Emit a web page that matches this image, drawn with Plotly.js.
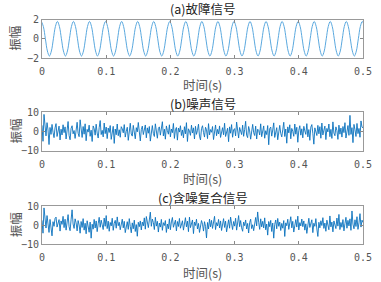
<!DOCTYPE html>
<html><head><meta charset="utf-8">
<script src="https://cdn.plot.ly/plotly-3.0.1.min.js"></script>
<style>html,body{margin:0;padding:0;background:#fff}#c{width:381px;height:282px}</style>
</head><body><div id="c"></div>
<script>
// Titles / labels
const titles = ['(a)故障信号', '(b)噪声信号', '(c)含噪复合信号'];
const xLabel = '时间(s)';
const yLabel = '振幅';
const xTickVals = [0, 0.1, 0.2, 0.3, 0.4, 0.5];
const xTickText = ['0', '0.1', '0.2', '0.3', '0.4', '0.5'];
const yTickVals1 = [-2, 0, 2];
const yTickVals2 = [-10, 0, 10];

// (a) fault signal: samples every 1/8 period, starting at first peak
const faultStart = -0.001, faultStep = 0.003125;
const faultSignal = [
1.8,1.27,0,-1.27,-1.8,-1.27,0,1.27, 1.8,1.27,0,-1.27,-1.8,-1.27,0,1.27,
1.8,1.27,0,-1.27,-1.8,-1.27,0,1.27, 1.8,1.27,0,-1.27,-1.8,-1.27,0,1.27,
1.8,1.27,0,-1.27,-1.8,-1.27,0,1.27, 1.8,1.27,0,-1.27,-1.8,-1.27,0,1.27,
1.8,1.27,0,-1.27,-1.8,-1.27,0,1.27, 1.8,1.27,0,-1.27,-1.8,-1.27,0,1.27,
1.8,1.27,0,-1.27,-1.8,-1.27,0,1.27, 1.8,1.27,0,-1.27,-1.8,-1.27,0,1.27,
1.8,1.27,0,-1.27,-1.8,-1.27,0,1.27, 1.8,1.27,0,-1.27,-1.8,-1.27,0,1.27,
1.8,1.27,0,-1.27,-1.8,-1.27,0,1.27, 1.8,1.27,0,-1.27,-1.8,-1.27,0,1.27,
1.8,1.27,0,-1.27,-1.8,-1.27,0,1.27, 1.8,1.27,0,-1.27,-1.8,-1.27,0,1.27,
1.8,1.27,0,-1.27,-1.8,-1.27,0,1.27, 1.8,1.27,0,-1.27,-1.8,-1.27,0,1.27,
1.8,1.27,0,-1.27,-1.8,-1.27,0,1.27, 1.8,1.27,0,-1.27,-1.8,-1.27,0,1.27,
1.8,1.27
];

// (b) noise signal and (c) noisy composite signal, one sample per 0.0015625 s
const noiseStep = 0.0015625;
const noiseSignal = [
3.2,-5.1,8.9,1.4,-2.3,4.6,0.8,-6.8,2.1,-1.5,3.7,-0.4,-3.2,1.9,4.1,-2.6,0.3,2.8,-4.4,1.2,
-1.8,3.5,-0.6,2.4,-3.9,0.9,5.2,-2.1,-4.3,1.6,3.0,-1.2,0.5,-3.6,2.2,4.8,-0.9,-2.7,6.1,0.4,
-3.1,2.6,-1.4,4.0,-4.8,1.1,-0.3,3.3,-2.5,0.7,-5.2,2.9,1.5,-1.9,3.8,-0.8,-3.4,2.0,5.7,-1.6,
0.6,-2.8,4.4,-1.1,2.3,-3.7,1.8,-0.5,3.1,-4.1,0.2,2.7,-6.2,1.3,-1.7,3.9,-2.2,0.9,-3.0,2.5,
1.4,-0.7,3.6,-2.9,0.1,2.2,-4.6,1.7,4.3,-1.3,-2.4,3.2,0.6,-3.8,2.0,-0.2,4.7,-2.0,-4.9,1.0,
2.8,-1.6,0.4,3.4,-3.3,1.9,-0.9,2.6,-5.0,0.8,3.1,-1.0,-2.6,4.0,0.3,-3.5,1.6,2.4,-1.9,0.7,
5.1,-2.3,1.2,-4.0,2.9,0.5,-1.4,3.5,-2.8,1.3,-0.6,4.2,-3.6,0.9,2.1,-4.5,1.8,-0.3,3.0,-2.1,
0.8,-3.3,2.5,-1.2,4.6,-5.2,1.4,0.2,-2.0,3.3,-0.8,1.9,-3.9,2.7,-1.5,0.6,3.8,-2.4,-4.4,1.5,
3.0,-0.5,-2.9,2.2,0.9,-3.7,4.1,-1.8,1.0,-0.4,2.6,-4.2,0.7,3.4,-2.2,1.1,-1.3,2.9,-3.1,0.2,
2.0,-1.7,4.3,-2.6,0.5,1.7,-5.3,2.4,-0.9,3.6,-3.0,0.8,1.5,-2.3,4.9,-1.1,-3.4,2.1,0.4,-1.6,
3.3,-2.5,1.0,5.3,-1.9,-3.2,2.6,0.3,-4.0,1.9,3.7,-0.6,-2.1,2.8,-3.9,1.2,0.6,-1.8,4.0,-2.7,
1.1,2.9,-3.5,0.4,-1.6,3.1,-6.9,1.5,2.3,-2.4,0.8,4.5,-3.1,-0.5,2.0,-4.3,1.7,3.2,-1.0,-2.8,
0.9,4.8,-2.6,1.3,-6.1,2.4,-0.7,3.5,-3.8,1.6,0.1,-2.5,3.9,-1.4,2.2,-5.6,0.6,3.0,-1.9,1.4,
-3.3,2.7,0.3,-1.5,4.1,-2.8,1.0,-4.6,2.3,3.6,-0.9,-6.6,1.9,0.4,-2.1,3.2,-1.2,2.5,-3.5,4.4,
-1.8,0.7,2.8,-4.2,1.6,-0.2,3.9,-2.7,1.1,-3.6,5.0,-0.8,-2.2,2.4,0.5,-4.1,3.3,-1.4,1.8,-2.9,
2.6,-0.6,4.6,-3.4,1.2,3.1,-2.0,8.4,-1.5,2.0,-5.8,3.7,0.9,-2.6,4.2,-1.1,1.6,-3.0,5.5,2.3,
1.9
];
const noisySignal = [
2.5,-4.2,9.0,2.0,-1.5,5.0,1.2,-3.8,3.0,-2.4,-5.6,1.8,-0.6,3.5,4.2,-1.0,0.8,2.9,-3.1,2.2,
0.4,4.6,-1.3,3.1,-2.6,1.7,5.5,-0.8,-2.9,2.8,8.0,0.6,-1.7,3.3,1.2,-3.0,2.4,0.1,-4.2,1.9,
-1.2,3.4,-2.6,1.0,-4.5,2.3,-0.9,-3.7,1.6,-6.8,0.5,-2.1,3.0,-1.5,2.2,-3.4,0.7,4.1,-1.1,2.6,
0.2,-2.3,3.7,-0.6,5.0,-1.8,2.1,-3.2,1.4,-0.4,3.6,-2.7,0.9,2.5,-1.6,4.3,-0.3,1.5,-2.4,0.8,
3.1,-1.4,2.0,-3.9,0.6,1.8,-2.2,3.4,-0.7,-4.0,1.2,-1.9,2.6,-3.3,0.3,-5.8,1.5,-0.8,2.2,-2.5,
1.6,-0.4,3.8,-2.1,4.5,0.9,-1.3,2.7,6.8,-0.6,3.2,1.4,-2.3,4.1,-0.5,2.0,-3.6,1.1,-1.0,3.0,
-2.7,1.3,-0.2,2.4,-3.8,0.6,-1.9,3.3,-2.4,1.7,4.0,-1.1,0.5,2.6,-3.0,1.9,-0.7,3.5,-1.6,0.8,
2.3,-2.6,1.0,3.9,-0.9,2.1,-3.4,4.2,-1.3,0.3,2.7,-4.4,1.6,-0.2,3.1,-2.0,0.9,-3.8,-1.2,2.4,
0.5,-3.1,1.8,-0.6,-6.7,1.4,-2.0,3.2,-0.9,2.5,-1.7,0.8,4.6,-2.3,1.3,-0.4,3.0,-1.5,2.2,-2.8,
1.0,3.4,-1.2,2.1,-3.5,0.4,2.8,-1.6,4.2,0.7,-2.3,1.9,-0.5,3.6,-2.6,1.1,5.0,-0.8,2.4,-1.4,
-3.2,1.6,-0.3,2.7,-2.0,0.9,-4.1,1.3,3.1,-1.8,0.2,-2.9,1.7,4.0,-0.4,6.9,1.5,-2.2,3.3,-0.9,
2.0,-1.5,3.8,-2.4,0.6,-5.2,1.9,-0.8,2.5,-3.3,1.1,-6.8,0.4,2.7,-1.9,3.5,-0.6,1.6,-2.8,0.9,
-1.6,2.4,-5.9,1.2,-0.3,3.1,-2.2,0.8,4.4,-1.4,2.0,-3.6,0.5,2.9,-1.0,4.7,-2.5,1.3,-0.4,3.2,
-0.8,2.2,-2.6,0.7,-4.3,1.9,3.6,-1.2,0.4,2.8,-3.9,1.0,-0.6,3.4,-2.0,-5.9,1.5,-1.4,2.3,-0.2,
3.9,-1.7,1.1,-3.2,2.6,0.3,-2.4,4.8,-0.9,1.6,-3.5,2.2,0.6,-1.8,3.7,-0.5,5.6,-2.3,1.4,-1.1,
2.9,-3.0,0.8,4.1,-1.6,2.5,-0.4,3.3,-2.7,7.4,0.5,-1.9,2.8,-0.7,4.4,-2.2,1.2,6.0,-1.0,2.6,
1.4
];

const W = 381, H = 282;
const px = v => v / W, py = v => 1 - v / H;
const plotL = 42, plotR = 363;
const boxes = [[19.5, 58], [112.3, 150.7], [206, 244.3]]; // top,bottom in px
const titleY = [9, 103, 197];
const xLabelY = [85, 178, 272];
const yLabelX = 15;

const tickFont = {family: 'DejaVu Sans Mono, monospace', size: 10, color: '#555'};
const labelFont = {family: 'Noto Sans CJK SC, sans-serif', size: 12.5, color: '#555'};

function xAx(i, anchor) {
  return {domain: [px(plotL), px(plotR)], anchor: anchor, range: [0, 0.5],
    tickvals: xTickVals, ticktext: xTickText, ticks: 'inside', ticklen: 3, tickcolor: '#888',
    showline: true, mirror: 'ticks', linecolor: '#999', linewidth: 1,
    showgrid: false, zeroline: false, tickfont: tickFont, ticklabelstandoff: 4};
}
function yAx(i, anchor, rng, tv) {
  return {domain: [py(boxes[i][1]), py(boxes[i][0])], anchor: anchor, range: rng,
    tickvals: tv, ticks: 'inside', ticklen: 3, tickcolor: '#888',
    showline: true, mirror: 'ticks', linecolor: '#999', linewidth: 1,
    showgrid: false, zeroline: false, tickfont: tickFont};
}

const data = [
  {y: faultSignal, x0: faultStart, dx: faultStep, type: 'scatter', mode: 'lines',
   line: {color: '#5aa8de', width: 1, shape: 'spline', smoothing: 1}, xaxis: 'x', yaxis: 'y'},
  {y: noiseSignal, x0: 0, dx: noiseStep, type: 'scatter', mode: 'lines',
   line: {color: '#0a72bd', width: 0.9}, xaxis: 'x2', yaxis: 'y2'},
  {y: noisySignal, x0: 0, dx: noiseStep, type: 'scatter', mode: 'lines',
   line: {color: '#0a72bd', width: 0.9}, xaxis: 'x3', yaxis: 'y3'}
];

const ann = [];
titles.forEach((t, i) => {
  ann.push({text: t, xref: 'paper', yref: 'paper',
    x: px((plotL + plotR) / 2), y: py(titleY[i]), xanchor: 'center', yanchor: 'middle',
    showarrow: false, font: {family: 'Noto Sans CJK SC, sans-serif', size: 12.5, color: '#222'}});
  ann.push({text: xLabel, xref: 'paper', yref: 'paper',
    x: px((plotL + plotR) / 2), y: py(xLabelY[i]), xanchor: 'center', yanchor: 'middle',
    showarrow: false, font: labelFont});
  ann.push({text: yLabel, xref: 'paper', yref: 'paper', textangle: -90,
    x: px(yLabelX), y: py((boxes[i][0] + boxes[i][1]) / 2), xanchor: 'center', yanchor: 'middle',
    showarrow: false, font: labelFont});
});

const layout = {
  width: W, height: H, margin: {l: 0, r: 0, t: 0, b: 0},
  paper_bgcolor: '#fff', plot_bgcolor: '#fff', showlegend: false,
  xaxis: xAx(0, 'y'), yaxis: yAx(0, 'x', [-2, 2], yTickVals1),
  xaxis2: xAx(1, 'y2'), yaxis2: yAx(1, 'x2', [-10, 10], yTickVals2),
  xaxis3: xAx(2, 'y3'), yaxis3: yAx(2, 'x3', [-10, 10], yTickVals2),
  annotations: ann
};

Plotly.newPlot('c', data, layout, {staticPlot: true, displayModeBar: false});
</script></body></html>
